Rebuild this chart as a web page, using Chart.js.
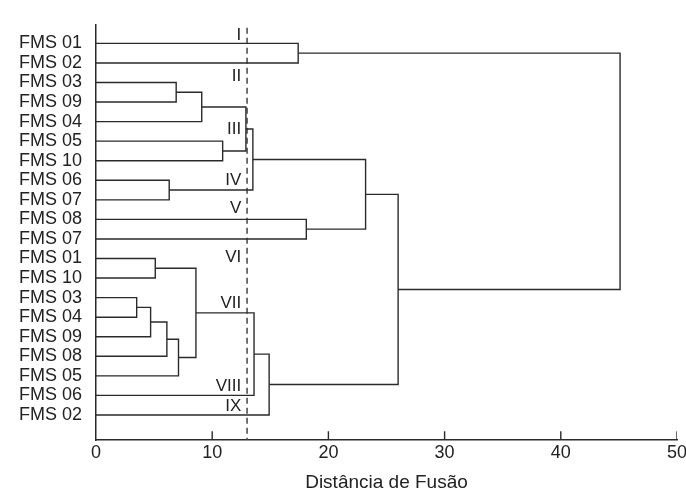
<!DOCTYPE html>
<html>
<head>
<meta charset="utf-8">
<script src="https://cdn.jsdelivr.net/npm/chart.js@4.4.1/dist/chart.umd.min.js"></script>
<style>
  body { margin: 0; background: #fff; }
</style>
</head>
<body>
<canvas id="dendroChart" width="686" height="494"></canvas>
<script>
// folhas, de cima para baixo
const leaves = ['FMS 01', 'FMS 02', 'FMS 03', 'FMS 09', 'FMS 04', 'FMS 05', 'FMS 10', 'FMS 06', 'FMS 07', 'FMS 08',
  'FMS 07', 'FMS 01', 'FMS 10', 'FMS 03', 'FMS 04', 'FMS 09', 'FMS 08', 'FMS 05', 'FMS 06', 'FMS 02'];

// junções: índice < 20 = folha, índice >= 20 = grupo formado na junção (n - 20)
const mergeA = [0, 2, 21, 5, 22, 7, 24, 9, 26, 11, 13, 30, 31, 32, 29, 34, 35, 28, 20];
const mergeB = [1, 3, 4, 6, 23, 8, 25, 10, 27, 12, 14, 15, 16, 17, 33, 18, 19, 36, 37];
const mergeDist = [17.4, 6.9, 9.1, 10.9, 12.9, 6.3, 13.5, 18.1, 23.2, 5.1, 3.5, 4.7, 6.1, 7.1, 8.6, 13.6, 14.9, 26.0, 45.1];

const xTicks = [0, 10, 20, 30, 40, 50];
const cutoff = 13;
const groupNames = ['I', 'II', 'III', 'IV', 'V', 'VI', 'VII', 'VIII', 'IX'];

// onde ficam os rótulos dos grupos (linha da folha, fracionária)
const groupRow = [-0.41, 1.66, 4.39, 6.99, 8.44, 10.94, 13.29, 17.52, 18.57];
const groupLabelX = 12.5;

const yTop = -0.95;
const yBottom = 20.28;
const ink = '#2a2a2a';

Chart.defaults.font.family = '"Liberation Sans", Arial, Helvetica, sans-serif';
Chart.defaults.color = '#222';

let lineStyle = {
  showLine: true,
  borderColor: ink,
  borderWidth: 1.4,
  pointRadius: 0,
  fill: false,
  tension: 0
};

// monta os "U" do dendrograma
let nodeX = leaves.map(() => 0);
let nodeY = leaves.map((_, i) => i);
let datasets = [];
mergeA.forEach((a, k) => {
  let b = mergeB[k];
  let d = mergeDist[k];
  datasets.push(Object.assign({
    data: [
      { x: nodeX[a], y: nodeY[a] },
      { x: d, y: nodeY[a] },
      { x: d, y: nodeY[b] },
      { x: nodeX[b], y: nodeY[b] }
    ]
  }, lineStyle));
  nodeX.push(d);
  nodeY.push((nodeY[a] + nodeY[b]) / 2);
});

// linha de corte tracejada
datasets.push(Object.assign({}, lineStyle, {
  data: [{ x: cutoff, y: yTop + 0.15 }, { x: cutoff, y: yBottom }],
  borderDash: [6, 4],
  borderWidth: 1.5,
  borderColor: '#444'
}));

// marcas do eixo x, para dentro
xTicks.slice(1).forEach(t => {
  datasets.push(Object.assign({}, lineStyle, {
    data: [{ x: t, y: yBottom }, { x: t, y: yBottom - 0.45 }]
  }));
});

const groupLabels = {
  id: 'groupLabels',
  afterDatasetsDraw(chart) {
    let ctx = chart.ctx;
    let xs = chart.scales.x, ys = chart.scales.y;
    ctx.save();
    ctx.font = '17px "Liberation Sans", Arial, sans-serif';
    ctx.fillStyle = '#222';
    ctx.textAlign = 'right';
    ctx.textBaseline = 'middle';
    groupNames.forEach((g, i) => {
      ctx.fillText(g, xs.getPixelForValue(groupLabelX), ys.getPixelForValue(groupRow[i]));
    });
    ctx.restore();
  }
};

let dendroChart = new Chart(document.getElementById('dendroChart'), {
  type: 'scatter',
  data: { datasets: datasets },
  plugins: [groupLabels],
  options: {
    responsive: false,
    animation: false,
    layout: { padding: { top: 10, right: 9, bottom: 0, left: 0 } },
    plugins: {
      legend: { display: false },
      tooltip: { enabled: false }
    },
    scales: {
      x: {
        type: 'linear',
        min: 0,
        max: 50,
        afterBuildTicks: s => { s.ticks = xTicks.map(v => ({ value: v })); },
        afterFit: s => { s.height = 54; s.paddingLeft = 0; s.paddingRight = 0; },
        grid: { display: false, drawTicks: false },
        border: { display: true, color: ink, width: 1.5 },
        ticks: { padding: 2, font: { size: 18 }, color: '#222', autoSkip: false, maxRotation: 0 },
        title: {
          display: true,
          text: 'Distância de Fusão',
          font: { size: 19 },
          color: '#222',
          padding: { top: 0, bottom: 0 }
        }
      },
      y: {
        type: 'linear',
        reverse: true,
        min: yTop,
        max: yBottom,
        afterBuildTicks: s => { s.ticks = leaves.map((_, i) => ({ value: i })); },
        afterFit: s => { s.width = 96; },
        grid: { display: false, drawTicks: false },
        border: { display: true, color: ink, width: 1.5 },
        ticks: {
          padding: 14,
          autoSkip: false,
          font: { size: 18 },
          color: '#222',
          callback: v => leaves[v]
        }
      }
    }
  }
});
</script>
</body>
</html>
